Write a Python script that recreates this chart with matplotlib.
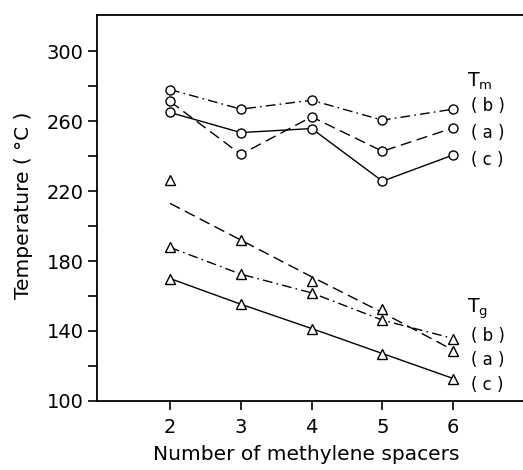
# coding: utf-8
import numpy as np

import matplotlib
matplotlib.use('Agg')

import matplotlib.pyplot as plt

# number of methylene spacers
spacers = [2, 3, 4, 5, 6]

# melting temperatures Tm (deg C)
tm_a = [271.3, 241.0, 262.5, 242.8, 256.2]
tm_b = [278.1, 266.9, 272.0, 260.6, 266.9]
tm_c = [265.0, 253.5, 255.8, 225.7, 240.7]

# glass transition temperatures Tg (deg C)
tg_a = [226.3, 191.9, 168.5, 152.5, 128.5]
tg_a_line = [213.0, 192.0, 171.0, 150.5, 129.0]
tg_b = [187.8, 172.5, 161.8, 146.2, 135.7]
tg_c = [170.0, 155.3, 141.4, 127.1, 112.8]

y_ticks = list(range(100, 320, 20))
y_labels = [str(v) if (v - 100) % 40 == 0 else '' for v in y_ticks]

mydpi = 100
fig = plt.figure(figsize=(5.23, 4.70), dpi=mydpi)
ax = fig.add_axes([0.185, 0.147, 0.815, 0.822])

dash_a = (0, (8, 4))
dash_b = (0, (7, 3, 1.2, 3))
lw = 1.0
circ = dict(marker='o', markersize=6.5, markerfacecolor='white',
            markeredgecolor='black', markeredgewidth=1.0, color='black', lw=lw)
tri = dict(marker='^', markersize=7, markerfacecolor='white',
           markeredgecolor='black', markeredgewidth=1.0, color='black', lw=lw)

# Tm curves
ax.plot(spacers, tm_b, linestyle=dash_b, **circ)
ax.plot(spacers, tm_a, linestyle=dash_a, **circ)
ax.plot(spacers, tm_c, linestyle='-', **circ)

# Tg curves
ax.plot(spacers, tg_a_line, linestyle=dash_a, color='black', lw=lw)
ax.plot(spacers, tg_a, linestyle='none', **tri)
ax.plot(spacers, tg_b, linestyle=dash_b, **tri)
ax.plot(spacers, tg_c, linestyle='-', **tri)

ax.set_xlim(0.965, 6.985)
ax.set_ylim(100, 321)
ax.set_xticks(spacers)
ax.set_yticks(y_ticks)
ax.set_yticklabels(y_labels)

ax.spines['right'].set_visible(False)
for s in ['left', 'bottom', 'top']:
    ax.spines[s].set_linewidth(1.3)
ax.tick_params(direction='out', length=6.5, width=1.2, labelsize=14)
ax.tick_params(axis='x', pad=6)
ax.tick_params(axis='y', pad=3)

ax.set_xlabel('Number of methylene spacers', fontsize=14.5)
ax.set_ylabel('Temperature ( °C )', fontsize=14.5)
ax.xaxis.set_label_coords(0.491, -0.113)
ax.yaxis.set_label_coords(-0.15, 0.507)

# curve labels
fs = 12
ax.text(6.2, 283, 'T$_\\mathregular{m}$', fontsize=fs + 1.5, ha='left', va='center')
ax.text(6.25, 268.5, '( b )', fontsize=fs, ha='left', va='center')
ax.text(6.25, 253.5, '( a )', fontsize=fs, ha='left', va='center')
ax.text(6.25, 238, '( c )', fontsize=fs, ha='left', va='center')

ax.text(6.2, 153, 'T$_\\mathregular{g}$', fontsize=fs + 1.5, ha='left', va='center')
ax.text(6.25, 137, '( b )', fontsize=fs, ha='left', va='center')
ax.text(6.25, 123.5, '( a )', fontsize=fs, ha='left', va='center')
ax.text(6.25, 109, '( c )', fontsize=fs, ha='left', va='center')

plt.savefig('out.png', dpi=mydpi)
